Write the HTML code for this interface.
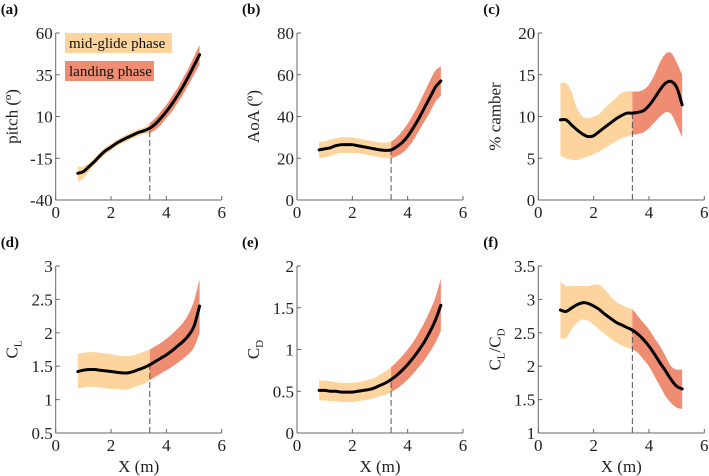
<!DOCTYPE html>
<html><head><meta charset="utf-8"><style>
html,body{margin:0;padding:0;background:#fff;}
svg, svg text{font-family:"Liberation Serif","Times New Roman",serif;}
svg{display:block;}
</style></head><body>
<svg id="fig" width="709" height="476" viewBox="0 0 709 476" font-family="Liberation Serif, serif" xmlns="http://www.w3.org/2000/svg"></svg>
<script>
const xs=[0.8,1.0,1.2,1.4,1.6,1.8,2.0,2.2,2.4,2.6,2.8,3.0,3.2,3.4,3.6,3.8,4.0,4.2,4.4,4.6,4.8,5.0,5.2];
const splitX=3.4;
const pitchMean=[-24,-23,-20,-17,-13.5,-10.5,-8.3,-6,-4.2,-2.5,-1,0.5,1.5,3,5.5,9,13,17.5,22.5,28,34,40.5,47];
const pitchUp=[-20,-20,-18,-15,-11.5,-8.5,-6.3,-4,-2.2,-0.5,1,2.5,3.5,6,9,13,17,22,27,33,39,46,53];
const pitchLo=[-29,-27,-23,-19,-15.5,-12.5,-10.3,-8,-6.2,-4.5,-3,-1.5,-0.5,0,2,5,9,13,18,23,29,35,41];
const aoaMean=[24,24.5,25,26,26.5,26.5,26.5,26,25.5,25,24.5,24,23.8,24,25.5,27.5,30.5,34.5,39,44,49,54,57];
const aoaUp=[28,28,29,29.5,30,30,30,29.5,29,28.5,28,27.5,27.5,28,30,33,36.5,41,46,51.5,57,62,64];
const aoaLo=[20,20.5,21,22,22.5,22.5,22.5,22.5,22,21.5,21,20.5,20.2,20,21,22.5,25,28.5,33,37.5,42,47,50];
const camMean=[9.6,9.6,9.0,8.4,7.9,7.6,7.7,8.2,8.7,9.2,9.7,10.1,10.4,10.4,10.5,10.7,11.3,12.2,13.2,14.0,14.2,13.5,11.4];
const camUp=[14,14,13,11,10,9.8,10,10.3,11,11.6,12.2,12.8,13,13,13,13.2,13.8,15,16.5,17.5,17.6,16.5,15];
const camLo=[5.3,5,4.8,4.8,5,5.2,5.5,5.8,6.2,6.6,7,7.4,7.6,7.8,7.9,8.1,8.6,9.3,10,10.5,10.3,9,7.5];
const clMean=[1.42,1.44,1.45,1.45,1.44,1.43,1.42,1.41,1.40,1.40,1.42,1.45,1.48,1.52,1.57,1.62,1.67,1.73,1.80,1.87,1.96,2.10,2.40];
const clUp=[1.68,1.70,1.71,1.71,1.70,1.69,1.68,1.66,1.65,1.65,1.66,1.69,1.72,1.75,1.80,1.85,1.91,1.98,2.06,2.15,2.28,2.48,2.80];
const clLo=[1.17,1.18,1.19,1.19,1.18,1.17,1.16,1.16,1.15,1.15,1.18,1.21,1.24,1.29,1.34,1.39,1.44,1.49,1.55,1.61,1.68,1.78,2.00];
const cdMean=[0.51,0.51,0.50,0.50,0.49,0.49,0.49,0.50,0.51,0.52,0.54,0.57,0.60,0.64,0.69,0.75,0.82,0.90,0.99,1.09,1.21,1.35,1.53];
const cdUp=[0.63,0.63,0.62,0.61,0.60,0.60,0.60,0.61,0.62,0.64,0.66,0.70,0.74,0.79,0.85,0.92,1.00,1.09,1.20,1.32,1.46,1.62,1.85];
const cdLo=[0.39,0.39,0.38,0.38,0.37,0.37,0.37,0.38,0.39,0.40,0.42,0.44,0.46,0.49,0.53,0.58,0.64,0.71,0.79,0.87,0.97,1.08,1.22];
const ldMean=[2.84,2.82,2.87,2.92,2.95,2.94,2.9,2.85,2.78,2.72,2.66,2.62,2.58,2.54,2.48,2.4,2.3,2.18,2.05,1.93,1.8,1.7,1.66];
const ldUp=[3.27,3.2,3.2,3.2,3.2,3.2,3.22,3.22,3.15,3.05,2.97,2.92,2.88,2.85,2.75,2.65,2.55,2.42,2.3,2.15,2.0,1.95,1.95];
const ldLo=[2.42,2.42,2.55,2.65,2.7,2.68,2.62,2.55,2.48,2.42,2.36,2.31,2.28,2.25,2.2,2.1,2.0,1.85,1.7,1.55,1.45,1.38,1.36];
const xTicks=[0,2,4,6];
const pitchTicks=[-40,-15,10,35,60];
const aoaTicks=[0,20,40,60,80];
const camTicks=[0,5,10,15,20];
const clTicks=[0.5,1,1.5,2,2.5,3];
const cdTicks=[0,0.5,1,1.5,2];
const ldTicks=[1,1.5,2,2.5,3,3.5];

const NS="http://www.w3.org/2000/svg";
const svg=document.getElementById('fig');
const FONT='Liberation Serif, Times New Roman, serif';
function mk(tag,attrs,parent){const e=document.createElementNS(NS,tag);for(const k in attrs)e.setAttribute(k,attrs[k]);if(tag==='text')e.setAttribute('font-family',FONT);(parent||svg).appendChild(e);return e;}
function smooth(P,move){
 let d=(move?'M':'L')+P[0][0]+','+P[0][1];
 for(let i=0;i<P.length-1;i++){
  const p0=P[Math.max(0,i-1)],p1=P[i],p2=P[i+1],p3=P[Math.min(P.length-1,i+2)];
  const c1=[p1[0]+(p2[0]-p0[0])/6,p1[1]+(p2[1]-p0[1])/6];
  const c2=[p2[0]-(p3[0]-p1[0])/6,p2[1]-(p3[1]-p1[1])/6];
  d+=' C'+c1[0]+','+c1[1]+' '+c2[0]+','+c2[1]+' '+p2[0]+','+p2[1];
 }
 return d;
}
const LIGHT="#fdd49e",DARK="#ef8d72",AX="#666";
const panels=[
 {id:'a',left:55.7,top:33,mean:pitchMean,up:pitchUp,lo:pitchLo,ticks:pitchTicks,ylab:'pitch (º)',xlab:false},
 {id:'b',left:297,top:33,mean:aoaMean,up:aoaUp,lo:aoaLo,ticks:aoaTicks,ylab:'AoA (º)',xlab:false},
 {id:'c',left:538.3,top:33,mean:camMean,up:camUp,lo:camLo,ticks:camTicks,ylab:'% camber',xlab:false},
 {id:'d',left:55.7,top:266,mean:clMean,up:clUp,lo:clLo,ticks:clTicks,ylab:'CL',xlab:true},
 {id:'e',left:297,top:266,mean:cdMean,up:cdUp,lo:cdLo,ticks:cdTicks,ylab:'CD',xlab:true},
 {id:'f',left:538.3,top:266,mean:ldMean,up:ldUp,lo:ldLo,ticks:ldTicks,ylab:'CLCD',xlab:true}
];
const W=166,H=167;
panels.forEach((p,pi)=>{
 const g=mk('g',{});
 
 
 const y0=p.ticks[0],y1=p.ticks[p.ticks.length-1];
 const sx=v=>p.left+(v-xTicks[0])/(xTicks[xTicks.length-1]-xTicks[0])*W;
 const sy=v=>p.top+H-(v-y0)/(y1-y0)*H;
 const clipL=mk('clipPath',{id:'cl'+pi},g);mk('rect',{x:p.left,y:p.top-10,width:sx(splitX)-p.left,height:H+20},clipL);
 const clipR=mk('clipPath',{id:'cr'+pi},g);mk('rect',{x:sx(splitX),y:p.top-10,width:W,height:H+20},clipR);
 const upP=xs.map((x,i)=>[sx(x),sy(p.up[i])]);
 const loP=xs.map((x,i)=>[sx(x),sy(p.lo[i])]).reverse();
 const bd=smooth(upP,true)+' '+smooth(loP,false)+' Z';
 const b1=mk('path',{d:bd,fill:LIGHT,'clip-path':'url(#cl'+pi+')'},g);
 
 
 const b2=mk('path',{d:bd,fill:DARK,'clip-path':'url(#cr'+pi+')'},g);
 
 
 let ms=0;xs.forEach((x,i)=>{if(Math.abs(x-splitX)<1e-6)ms=p.mean[i];});
 const dl=mk('line',{x1:sx(splitX),x2:sx(splitX),y1:p.top+H,y2:sy(ms),stroke:'#555','stroke-width':1,'stroke-dasharray':'6,3'},g);
 
 
 const ml=mk('path',{d:smooth(xs.map((x,i)=>[sx(x),sy(p.mean[i])]),true),fill:'none',stroke:'#000','stroke-width':3,'stroke-linejoin':'round','stroke-linecap':'round'},g);
 
 
 mk('line',{x1:p.left,x2:p.left,y1:p.top,y2:p.top+H,stroke:AX,'stroke-width':1},g);
 mk('line',{x1:p.left,x2:p.left+W,y1:p.top+H,y2:p.top+H,stroke:AX,'stroke-width':1},g);
 xTicks.forEach(t=>{
  mk('line',{x1:sx(t),x2:sx(t),y1:p.top+H,y2:p.top+H-4,stroke:AX},g);
  const tx=mk('text',{x:sx(t),y:p.top+H+18,'text-anchor':'middle','font-size':17,fill:'#222'},g);tx.textContent=t;
  
  
 });
 p.ticks.forEach(t=>{
  mk('line',{x1:p.left,x2:p.left+4,y1:sy(t),y2:sy(t),stroke:AX},g);
  const ty=mk('text',{x:p.left-3,y:sy(t)+6,'text-anchor':'end','font-size':17,fill:'#222'},g);ty.textContent=t;
  
  
 });
 const lab=mk('text',{x:p.left-55,y:p.top-19,'font-size':15,'font-weight':'bold',fill:'#111'},g);lab.textContent='('+p.id+')';
 
 
 const yl=mk('text',{transform:'translate('+(p.left-38)+','+(p.top+H/2)+') rotate(-90)','text-anchor':'middle','font-size':17,fill:'#222'},g);
 
 
 if(p.ylab==='CL'||p.ylab==='CD'){
  yl.innerHTML='C<tspan font-size="11" dy="4">'+p.ylab[1]+'</tspan>';
 }else if(p.ylab==='CLCD'){
  yl.innerHTML='C<tspan font-size="11" dy="4">L</tspan><tspan dy="-4">/C</tspan><tspan font-size="11" dy="4">D</tspan>';
 }else yl.textContent=p.ylab;
 if(p.xlab){
  const xl=mk('text',{x:p.left+W/2,y:p.top+H+39,'text-anchor':'middle','font-size':17,fill:'#222'},g);xl.textContent='X (m)';
  
  
 }
});
const lg=mk('g',{});


const r1=mk('rect',{x:65,y:33,width:107,height:20,fill:LIGHT},lg);


const t1=mk('text',{x:69,y:48,'font-size':15,fill:'#111'},lg);t1.textContent='mid-glide phase';
const r2=mk('rect',{x:65,y:61,width:89,height:20,fill:DARK},lg);


const t2=mk('text',{x:69,y:76,'font-size':15,fill:'#111'},lg);t2.textContent='landing phase';
</script>
</body></html>
